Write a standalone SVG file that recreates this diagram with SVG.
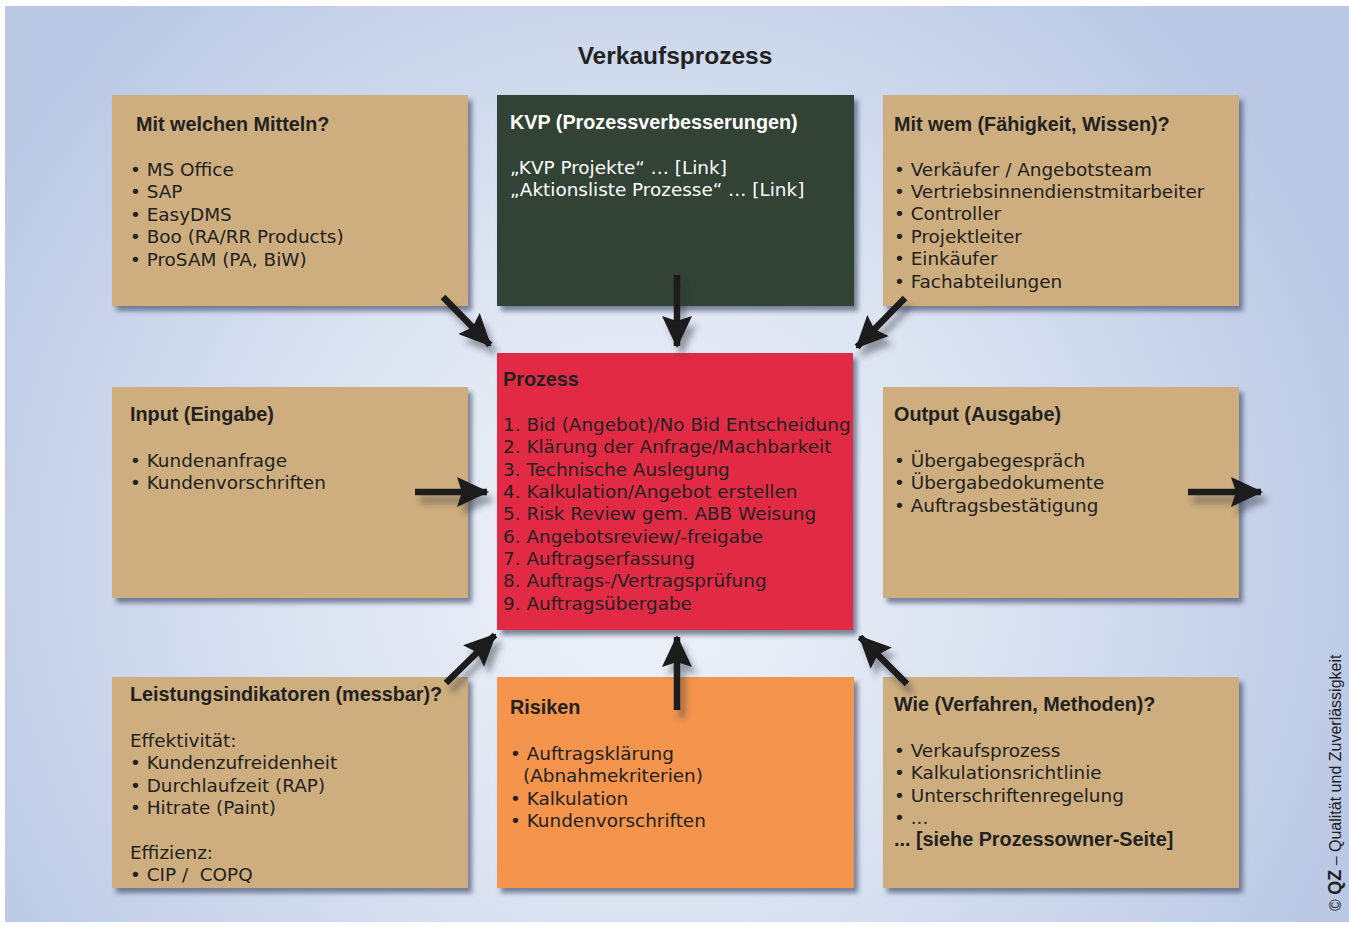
<svg xmlns="http://www.w3.org/2000/svg" width="1349" height="926" viewBox="0 0 1349 926">
<defs>
<radialGradient id="bg" gradientUnits="userSpaceOnUse" cx="640" cy="560" r="760">
<stop offset="0" stop-color="#F0F3FA"/>
<stop offset="0.45" stop-color="#DCE4F2"/>
<stop offset="1" stop-color="#BAC8E5"/>
</radialGradient>
<filter id="sh" x="-10%" y="-10%" width="120%" height="125%">
<feDropShadow dx="4" dy="5" stdDeviation="2.5" flood-color="#3E4A66" flood-opacity="0.65"/>
</filter>
<filter id="ash" x="-50%" y="-50%" width="200%" height="200%">
<feDropShadow dx="5" dy="8" stdDeviation="3" flood-color="#2A3040" flood-opacity="0.45"/>
</filter>
<marker id="ah" markerUnits="userSpaceOnUse" markerWidth="32" markerHeight="32" viewBox="0 0 32 32" refX="30" refY="16" orient="auto">
<path d="M0,1 L32,16 L0,31 L5,16 Z" fill="#1A1A1A"/>
</marker>
</defs>
<style>
text{font-family:"DejaVu Sans",Verdana,sans-serif;fill:#222;}
.t{font-size:18.4px;}
.b{font-family:"Liberation Sans",Arial,sans-serif;font-weight:bold;font-size:19.8px;}
.w{fill:#FFFFFF;}
.box{stroke:none;filter:url(#sh);}
.tan{fill:#CEAE7E;}
.arr{stroke:#1A1A1A;stroke-width:6.5;fill:none;marker-end:url(#ah);}
</style>
<rect x="5" y="6" width="1344" height="916" fill="url(#bg)"/>
<text x="675" y="64" text-anchor="middle" style="font-family:'Liberation Sans',Arial,sans-serif;font-size:24.5px;font-weight:bold;fill:#222">Verkaufsprozess</text>

<g id="mittel">
<rect class="box tan" x="112" y="95" width="356" height="211"/>
<text class="b" x="136" y="131">Mit welchen Mitteln?</text>
<text class="t" x="130" y="176">• MS Office</text>
<text class="t" x="130" y="198">• SAP</text>
<text class="t" x="130" y="221">• EasyDMS</text>
<text class="t" x="130" y="243">• Boo (RA/RR Products)</text>
<text class="t" x="130" y="266">• ProSAM (PA, BiW)</text>
</g>

<g id="kvp">
<rect class="box" fill="#334235" x="497" y="95" width="357" height="211"/>
<text class="b w" x="510" y="129">KVP (Prozessverbesserungen)</text>
<text class="t w" x="510" y="174">„KVP Projekte“ … [Link]</text>
<text class="t w" x="510" y="196">„Aktionsliste Prozesse“ … [Link]</text>
</g>

<g id="wem">
<rect class="box tan" x="883" y="95" width="356" height="211"/>
<text class="b" x="894" y="131">Mit wem (Fähigkeit, Wissen)?</text>
<text class="t" x="894" y="176">• Verkäufer / Angebotsteam</text>
<text class="t" x="894" y="198">• Vertriebsinnendienstmitarbeiter</text>
<text class="t" x="894" y="220">• Controller</text>
<text class="t" x="894" y="243">• Projektleiter</text>
<text class="t" x="894" y="265">• Einkäufer</text>
<text class="t" x="894" y="288">• Fachabteilungen</text>
</g>

<g id="input">
<rect class="box tan" x="112" y="387" width="356" height="211"/>
<text class="b" x="130" y="421">Input (Eingabe)</text>
<text class="t" x="130" y="467">• Kundenanfrage</text>
<text class="t" x="130" y="489">• Kundenvorschriften</text>
</g>

<g id="prozess">
<rect class="box" fill="#E22B45" x="497" y="353" width="356" height="277"/>
<text class="b" x="503" y="386">Prozess</text>
<text class="t" x="503" y="431">1. Bid (Angebot)/No Bid Entscheidung</text>
<text class="t" x="503" y="453">2. Klärung der Anfrage/Machbarkeit</text>
<text class="t" x="503" y="476">3. Technische Auslegung</text>
<text class="t" x="503" y="498">4. Kalkulation/Angebot erstellen</text>
<text class="t" x="503" y="520">5. Risk Review gem. ABB Weisung</text>
<text class="t" x="503" y="543">6. Angebotsreview/-freigabe</text>
<text class="t" x="503" y="565">7. Auftragserfassung</text>
<text class="t" x="503" y="587">8. Auftrags-/Vertragsprüfung</text>
<text class="t" x="503" y="610">9. Auftragsübergabe</text>
</g>

<g id="output">
<rect class="box tan" x="883" y="387" width="356" height="211"/>
<text class="b" x="894" y="421">Output (Ausgabe)</text>
<text class="t" x="894" y="467">• Übergabegespräch</text>
<text class="t" x="894" y="489">• Übergabedokumente</text>
<text class="t" x="894" y="512">• Auftragsbestätigung</text>
</g>

<g id="leistung">
<rect class="box tan" x="112" y="677" width="356" height="211"/>
<text class="b" x="130" y="701">Leistungsindikatoren (messbar)?</text>
<text class="t" x="130" y="747">Effektivität:</text>
<text class="t" x="130" y="769">• Kundenzufreidenheit</text>
<text class="t" x="130" y="792">• Durchlaufzeit (RAP)</text>
<text class="t" x="130" y="814">• Hitrate (Paint)</text>
<text class="t" x="130" y="859">Effizienz:</text>
<text class="t" x="130" y="881" xml:space="preserve">• CIP /  COPQ</text>
</g>

<g id="risiken">
<rect class="box" fill="#F5944E" x="497" y="677" width="357" height="211"/>
<text class="b" x="510" y="714">Risiken</text>
<text class="t" x="510" y="760">• Auftragsklärung</text>
<text class="t" x="523" y="782">(Abnahmekriterien)</text>
<text class="t" x="510" y="805">• Kalkulation</text>
<text class="t" x="510" y="827">• Kundenvorschriften</text>
</g>

<g id="wie">
<rect class="box tan" x="883" y="677" width="356" height="211"/>
<text class="b" x="894" y="711">Wie (Verfahren, Methoden)?</text>
<text class="t" x="894" y="757">• Verkaufsprozess</text>
<text class="t" x="894" y="779">• Kalkulationsrichtlinie</text>
<text class="t" x="894" y="802">• Unterschriftenregelung</text>
<text class="t" x="894" y="824">• ...</text>
<text class="b" x="894" y="846">... [siehe Prozessowner-Seite]</text>
</g>

<g id="connectors" filter="url(#ash)">
<line class="arr" x1="443" y1="297" x2="490" y2="345"/>
<line class="arr" x1="677" y1="275" x2="677" y2="346"/>
<line class="arr" x1="905" y1="298" x2="857" y2="347"/>
<line class="arr" x1="415" y1="492" x2="487" y2="492"/>
<line class="arr" x1="1188" y1="492" x2="1261" y2="492"/>
<line class="arr" x1="446" y1="683" x2="495" y2="635"/>
<line class="arr" x1="677" y1="710" x2="677" y2="637"/>
<line class="arr" x1="907" y1="684" x2="860" y2="637"/>
</g>

<text transform="translate(1341,911) rotate(-90)" style="font-family:'Liberation Sans',Arial,sans-serif;font-size:16px;fill:#222">© <tspan style="font-weight:bold;font-size:18px">QZ</tspan> – Qualität und Zuverlässigkeit</text>
</svg>
